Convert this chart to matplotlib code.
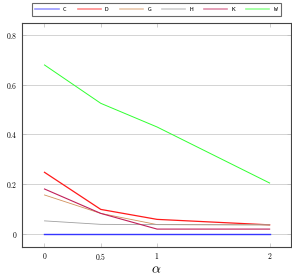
import numpy as np
import matplotlib.pyplot as plt
from matplotlib.lines import Line2D

plt.rcParams['mathtext.fontset'] = 'cm'
plt.rcParams['font.family'] = 'DejaVu Serif'

alpha_vals = [0, 0.5, 1, 2]
series_names = ['C', 'D', 'G', 'H', 'K', 'W']
c_vals = [0.0, 0.0, 0.0, 0.0]
d_vals = [0.248, 0.099, 0.059, 0.037]
g_vals = [0.157, 0.083, 0.038, 0.037]
h_vals = [0.053, 0.039, 0.038, 0.037]
k_vals = [0.181, 0.083, 0.020, 0.020]
w_vals = [0.679, 0.525, 0.430, 0.205]
x_ticks = [0, 0.5, 1, 2]
x_tick_labels = ['$0$', '$0.5$', '$1$', '$2$']
y_ticks = [0, 0.2, 0.4, 0.6, 0.8]
y_tick_labels = ['$0$', '$0.2$', '$0.4$', '$0.6$', '$0.8$']

colors = ['#3535ff', '#ff1a1a', '#d2915a', '#a0a0a0', '#c0205a', '#30ff30']
widths = [1.0, 0.9, 0.6, 0.6, 0.8, 0.7]
all_vals = [c_vals, d_vals, g_vals, h_vals, k_vals, w_vals]

fig = plt.figure(figsize=(2.92, 2.76), dpi=100)
ax = fig.add_axes([0.0753, 0.105, 0.9213, 0.813])

for vals, col, lw in zip(all_vals, colors, widths):
    ax.plot(alpha_vals, vals, color=col, linewidth=lw)

ax.set_xlim(-0.2, 2.19)
ax.set_ylim(-0.052, 0.849)
ax.set_xticks(x_ticks)
ax.set_xticklabels(x_tick_labels, fontsize=5.5)
ax.set_yticks(y_ticks)
ax.set_yticklabels(y_tick_labels, fontsize=5.5)
ax.tick_params(direction='in', top=True, right=True, length=3, width=0.5,
               color='#bbbbbb', pad=3)
ax.yaxis.grid(True, color='#cccccc', linewidth=0.6)
ax.set_axisbelow(True)
for s in ax.spines.values():
    s.set_linewidth(0.8)
    s.set_color('#444444')
ax.set_xlabel(r'$\alpha$', fontsize=10, labelpad=0)

handles = [Line2D([], [], color=col, alpha=0.5, linewidth=1.2) for col in colors]
leg = fig.legend(handles, series_names, loc='upper center', ncol=6,
                 bbox_to_anchor=(0.536, 1.0),
                 prop={'family': 'DejaVu Sans Mono', 'size': 4.5},
                 frameon=True, fancybox=False, handlelength=3.7,
                 handletextpad=0.7, columnspacing=1.75, borderpad=0.6)
leg.get_frame().set_edgecolor('#444444')
leg.get_frame().set_linewidth(0.8)

fig.savefig('out.png', dpi=100)
